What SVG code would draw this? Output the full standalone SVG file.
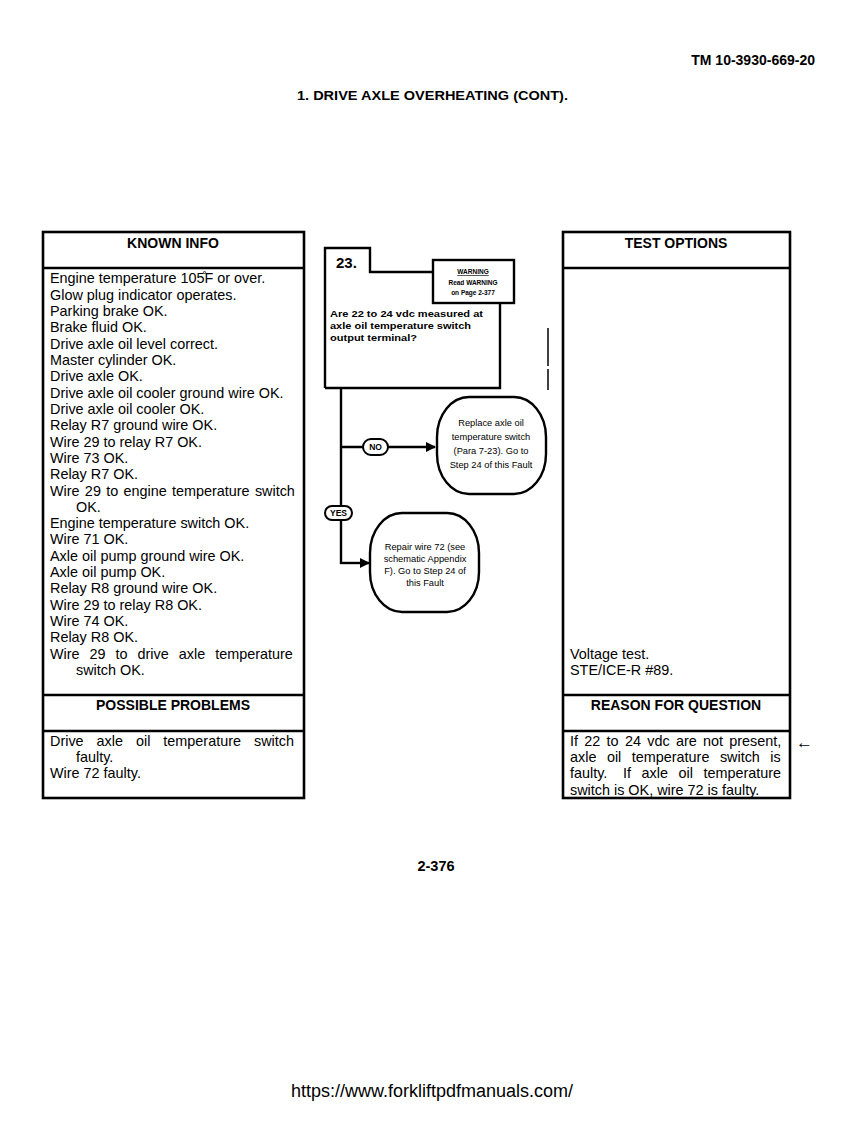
<svg xmlns="http://www.w3.org/2000/svg" width="866" height="1122" viewBox="0 0 866 1122">
<style>
text{font-family:"Liberation Sans",Arial,sans-serif;fill:#000}
.b{font-weight:bold}
.hd{font-size:14px;font-weight:bold;text-anchor:middle}
.t{font-size:14.4px}
.frame{fill:none;stroke:#000;stroke-width:2.6}
.ln{stroke:#000;stroke-width:2.6}
.fc{fill:none;stroke:#000;stroke-width:2.4}
.q{font-size:9.5px;font-weight:bold}
.s{font-size:9.3px;text-anchor:middle}
.lab{font-size:8.5px;font-weight:bold;text-anchor:middle}
</style>
<defs>
<marker id="ah" markerWidth="10" markerHeight="10" refX="9" refY="5" orient="auto" markerUnits="userSpaceOnUse" viewBox="0 0 10 10">
<path d="M0,0 L10,5 L0,10 z" fill="#000"/>
</marker>
</defs>
<rect width="866" height="1122" fill="#fff"/>
<text class="b" x="815" y="65" font-size="14" text-anchor="end">TM 10-3930-669-20</text>
<text class="b" x="297" y="100" font-size="13.5" textLength="271" lengthAdjust="spacingAndGlyphs">1.  DRIVE AXLE OVERHEATING (CONT).</text>

<g id="known-info">
<rect class="frame" x="43" y="232" width="261" height="566"/>
<line class="ln" x1="43" y1="268" x2="304" y2="268"/>
<line class="ln" x1="43" y1="695" x2="304" y2="695"/>
<line class="ln" x1="43" y1="731" x2="304" y2="731"/>
<text class="hd" x="173" y="248">KNOWN INFO</text>
<g class="t">
<text x="50" y="283">Engine temperature 105̊F or over.</text>
<text x="50" y="300">Glow plug indicator operates.</text>
<text x="50" y="316">Parking brake OK.</text>
<text x="50" y="332">Brake fluid OK.</text>
<text x="50" y="349">Drive axle oil level correct.</text>
<text x="50" y="365">Master cylinder OK.</text>
<text x="50" y="381">Drive axle OK.</text>
<text x="50" y="398">Drive axle oil cooler ground wire OK.</text>
<text x="50" y="414">Drive axle oil cooler OK.</text>
<text x="50" y="430">Relay R7 ground wire OK.</text>
<text x="50" y="447">Wire 29 to relay R7 OK.</text>
<text x="50" y="463">Wire 73 OK.</text>
<text x="50" y="479">Relay R7 OK.</text>
<text x="50" y="496" word-spacing="1.3">Wire 29 to engine temperature switch</text>
<text x="76" y="512">OK.</text>
<text x="50" y="528">Engine temperature switch OK.</text>
<text x="50" y="544">Wire 71 OK.</text>
<text x="50" y="561">Axle oil pump ground wire OK.</text>
<text x="50" y="577">Axle oil pump OK.</text>
<text x="50" y="593">Relay R8 ground wire OK.</text>
<text x="50" y="610">Wire 29 to relay R8 OK.</text>
<text x="50" y="626">Wire 74 OK.</text>
<text x="50" y="642">Relay R8 OK.</text>
<text x="50" y="659" word-spacing="6">Wire 29 to drive axle temperature</text>
<text x="76" y="675">switch OK.</text>
</g>
<text class="hd" x="173" y="710">POSSIBLE PROBLEMS</text>
<g class="t">
<text x="50" y="746" word-spacing="9">Drive axle oil temperature switch</text>
<text x="76" y="762">faulty.</text>
<text x="50" y="778">Wire 72 faulty.</text>
</g>
</g>

<g id="test-options">
<rect class="frame" x="563" y="232" width="227" height="566"/>
<line class="ln" x1="563" y1="268" x2="790" y2="268"/>
<line class="ln" x1="563" y1="695" x2="790" y2="695"/>
<line class="ln" x1="563" y1="731" x2="790" y2="731"/>
<text class="hd" x="676" y="248">TEST OPTIONS</text>
<g class="t">
<text x="570" y="659">Voltage test.</text>
<text x="570" y="675">STE/ICE-R #89.</text>
</g>
<text class="hd" x="676" y="710">REASON FOR QUESTION</text>
<g class="t">
<text x="570" y="746" word-spacing="2.3">If 22 to 24 vdc are not present,</text>
<text x="570" y="762" word-spacing="6.5">axle oil temperature switch is</text>
<text x="570" y="778">faulty.</text>
<text x="781" y="778" text-anchor="end" word-spacing="6.5">If axle oil temperature</text>
<text x="570" y="795">switch is OK, wire 72 is faulty.</text>
</g>
<text x="796" y="748" font-size="17">←</text>
</g>

<g id="step-23">
<path class="fc" d="M325,388 V248 H370 V272 H433"/>
<path class="fc" d="M325,388 H500 V303"/>
<text class="b" x="336" y="268" font-size="15">23.</text>
<text class="q" x="330" y="317" textLength="153" lengthAdjust="spacingAndGlyphs">Are 22 to 24 vdc measured at</text>
<text class="q" x="330" y="329" textLength="141" lengthAdjust="spacingAndGlyphs">axle oil temperature switch</text>
<text class="q" x="330" y="341" textLength="87" lengthAdjust="spacingAndGlyphs">output terminal?</text>
</g>
<g id="note">
<rect class="fc" x="433" y="260" width="81" height="43" fill="#fff"/>
<text x="473" y="274" font-size="6.5" text-anchor="middle" font-weight="bold" text-decoration="underline">WARNING</text>
<text x="473" y="285" font-size="6.5" text-anchor="middle" font-weight="bold">Read WARNING</text>
<text x="473" y="295" font-size="6.5" text-anchor="middle" font-weight="bold">on Page 2-377</text>
</g>
<g id="marks">
<line x1="548" y1="328" x2="548" y2="366" stroke="#000" stroke-width="1.5"/>
<line x1="548" y1="369" x2="548" y2="390" stroke="#000" stroke-width="1.5"/>
</g>

<g id="no-result">
<rect class="fc" x="437" y="397" width="109" height="97" rx="32" ry="40" fill="#fff"/>
<text class="s" x="491" y="426">Replace axle oil</text>
<text class="s" x="491" y="440">temperature switch</text>
<text class="s" x="491" y="454">(Para 7-23).  Go to</text>
<text class="s" x="491" y="468">Step 24 of this Fault</text>
</g>
<g id="yes-result">
<rect class="fc" x="370" y="513" width="109" height="99" rx="32" ry="40" fill="#fff"/>
<text class="s" x="425" y="550">Repair wire 72 (see</text>
<text class="s" x="425" y="562">schematic Appendix</text>
<text class="s" x="425" y="574">F).  Go to Step 24 of</text>
<text class="s" x="425" y="586">this Fault</text>
</g>

<g id="connectors">
<line class="fc" x1="341" y1="388" x2="341" y2="564"/>
<line class="fc" x1="340" y1="447" x2="435" y2="447" marker-end="url(#ah)"/>
<line class="fc" x1="340" y1="563" x2="369" y2="563" marker-end="url(#ah)"/>
<rect x="363" y="439" width="25" height="16" rx="8" fill="#fff" stroke="#000" stroke-width="2"/>
<text class="lab" x="375.5" y="450">NO</text>
<rect x="325" y="506" width="27" height="14" rx="7" fill="#fff" stroke="#000" stroke-width="2"/>
<text class="lab" x="338.5" y="516">YES</text>
</g>

<text class="b" x="436" y="871" font-size="14.5" text-anchor="middle">2-376</text>
<text x="432" y="1097" font-size="18" text-anchor="middle">https://www.forkliftpdfmanuals.com/</text>
</svg>
